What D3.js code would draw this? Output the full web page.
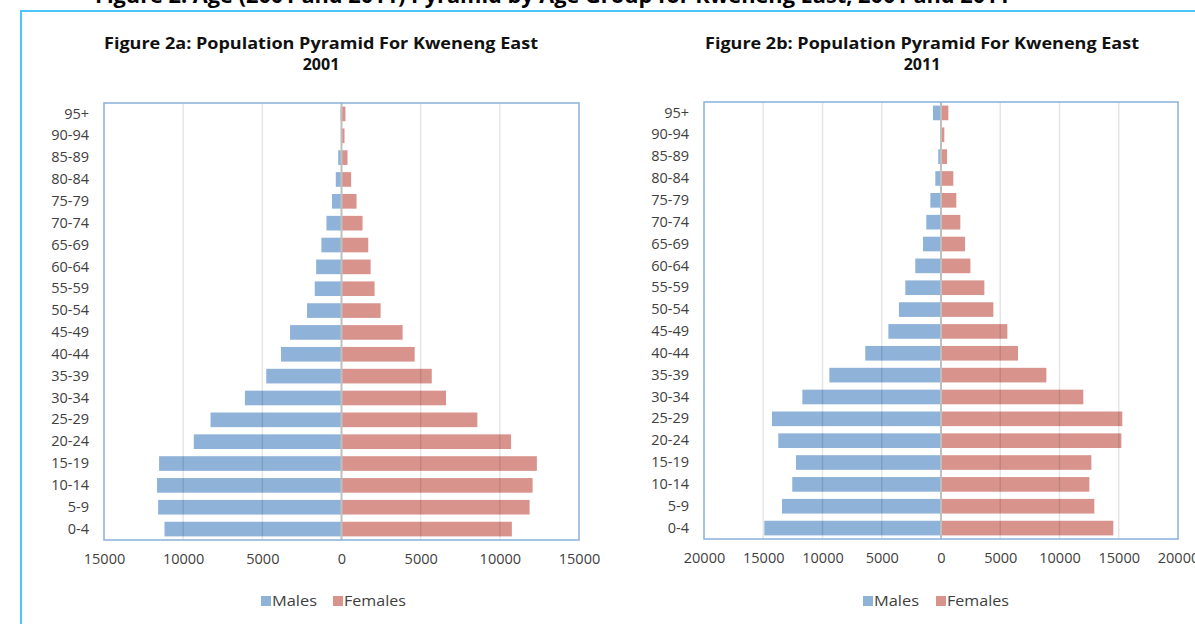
<!DOCTYPE html>
<html>
<head>
<meta charset="utf-8">
<script src="https://cdn.jsdelivr.net/npm/d3@7"></script>
<style>
  html, body { margin: 0; padding: 0; background: #fff; }
  svg { display: block; }
  .tick text { font-family: "Open Sans", "DejaVu Sans", sans-serif; font-size: 14.5px; fill: #404040; }
</style>
</head>
<body>
<svg id="chart" width="1195" height="624"></svg>
<script>
// ---- Data ----
const ageGroups = ["0-4","5-9","10-14","15-19","20-24","25-29","30-34","35-39","40-44","45-49",
                   "50-54","55-59","60-64","65-69","70-74","75-79","80-84","85-89","90-94","95+"];
const males2001   = [11180,11580,11650,11520,9330,8270,6100,4750,3820,3250,2180,1690,1600,1270,950,600,360,210,40,60];
const females2001 = [10760,11880,12070,12340,10710,8580,6600,5700,4620,3860,2470,2090,1840,1690,1330,950,610,380,190,250];
const males2011   = [14910,13420,12550,12240,13730,14260,11700,9420,6390,4440,3550,3010,2170,1520,1240,900,480,230,40,680];
const females2011 = [14540,12940,12520,12690,15220,15300,12010,8890,6500,5600,4420,3660,2480,2030,1630,1290,1040,510,280,620];
const ticks2001 = [-15000,-10000,-5000,0,5000,10000,15000];
const ticks2011 = [-20000,-15000,-10000,-5000,0,5000,10000,15000,20000];
const seriesNames = ["Males","Females"];
const titles = [["Figure 2a: Population Pyramid For Kweneng East","2001"],
                ["Figure 2b: Population Pyramid For Kweneng East","2011"]];
const headingText = "Figure 2: Age (2001 and 2011) Pyramid by Age Group for Kweneng East, 2001 and 2011";

const maleColor = "#8EB2D8";
const femaleColor = "#D9938D";
const fontFam = '"Open Sans", "DejaVu Sans", sans-serif';

const svg = d3.select("#chart");

// heading of the page, cut off at the top edge as in the reference
svg.append("text")
  .attr("x", 95).attr("y", 3)
  .attr("font-family", fontFam).attr("font-weight", "bold").attr("font-size", 22)
  .attr("fill", "#000")
  .attr("textLength", 915).attr("lengthAdjust", "spacingAndGlyphs")
  .text(headingText);

// cyan frame
svg.append("path")
  .attr("d", "M21,624 L21,11 L1195,11")
  .attr("fill", "none").attr("stroke", "#4CC6F6").attr("stroke-width", 2);

const charts = [
  {males: males2001, females: females2001, ticks: ticks2001, max: 15000,
   x0: 104, x1: 579, y0: 103, y1: 540, title: titles[0], tcx: 321, tw: 434,
   legend: {mx: 261, fx: 333}},
  {males: males2011, females: females2011, ticks: ticks2011, max: 20000,
   x0: 704, x1: 1178, y0: 102, y1: 539, title: titles[1], tcx: 922, tw: 434,
   legend: {mx: 863, fx: 936}}
];

charts.forEach(c => {
  const g = svg.append("g");
  const x = d3.scaleLinear().domain([-c.max, c.max]).range([c.x0, c.x1]);
  const y = d3.scaleBand().domain(ageGroups.slice().reverse()).range([c.y0, c.y1])
              .paddingInner(0.33).paddingOuter(0.165);

  // title
  g.append("text").attr("x", c.tcx).attr("y", 49)
    .attr("text-anchor", "middle").attr("font-family", fontFam)
    .attr("font-weight", "bold").attr("font-size", 16).attr("fill", "#111")
    .attr("textLength", c.tw).attr("lengthAdjust", "spacingAndGlyphs")
    .text(c.title[0]);
  g.append("text").attr("x", c.tcx).attr("y", 70)
    .attr("text-anchor", "middle").attr("font-family", fontFam)
    .attr("font-weight", "bold").attr("font-size", 16).attr("fill", "#111")
    .text(c.title[1]);

  // bars
  g.selectAll(".m").data(ageGroups).enter().append("rect")
    .attr("x", (d,i) => x(-c.males[i]))
    .attr("width", (d,i) => x(0) - x(-c.males[i]))
    .attr("y", d => y(d)).attr("height", y.bandwidth())
    .attr("fill", maleColor);
  g.selectAll(".f").data(ageGroups).enter().append("rect")
    .attr("x", x(0))
    .attr("width", (d,i) => x(c.females[i]) - x(0))
    .attr("y", d => y(d)).attr("height", y.bandwidth())
    .attr("fill", femaleColor);

  // gridlines (on top, translucent)
  g.selectAll(".grid").data(c.ticks.filter(t => t !== 0 && Math.abs(t) !== c.max)).enter().append("line")
    .attr("x1", d => x(d)).attr("x2", d => x(d))
    .attr("y1", c.y0).attr("y2", c.y1)
    .attr("stroke", "#000").attr("stroke-opacity", 0.1).attr("stroke-width", 1.5);

  // zero axis
  g.append("line").attr("x1", x(0)).attr("x2", x(0)).attr("y1", c.y0).attr("y2", c.y1)
    .attr("stroke", "#BFBFBF").attr("stroke-width", 2);

  // plot border
  g.append("rect").attr("x", c.x0).attr("y", c.y0)
    .attr("width", c.x1 - c.x0).attr("height", c.y1 - c.y0)
    .attr("fill", "none").attr("stroke", "#8AB0DC").attr("stroke-width", 1.5);

  // x axis
  const xa = g.append("g").attr("transform", `translate(0,${c.y1})`)
    .call(d3.axisBottom(x).tickValues(c.ticks).tickSize(0).tickPadding(14)
           .tickFormat(d => String(Math.abs(d))));
  xa.select(".domain").remove();

  // y axis
  const ya = g.append("g").attr("transform", `translate(${c.x0},0)`)
    .call(d3.axisLeft(y).tickSize(0).tickPadding(15));
  ya.select(".domain").remove();

  // legend
  const ly = 601;
  const lg = g.append("g");
  [[c.legend.mx, maleColor, seriesNames[0], 45], [c.legend.fx, femaleColor, seriesNames[1], 62]].forEach(([lx, col, name, tl]) => {
    lg.append("rect").attr("x", lx).attr("y", ly - 5).attr("width", 10).attr("height", 10).attr("fill", col);
    lg.append("text").attr("x", lx + 11).attr("y", ly + 5)
      .attr("font-family", fontFam).attr("font-size", 15).attr("fill", "#404040")
      .attr("textLength", tl).attr("lengthAdjust", "spacingAndGlyphs").text(name);
  });
});
</script>
</body>
</html>
